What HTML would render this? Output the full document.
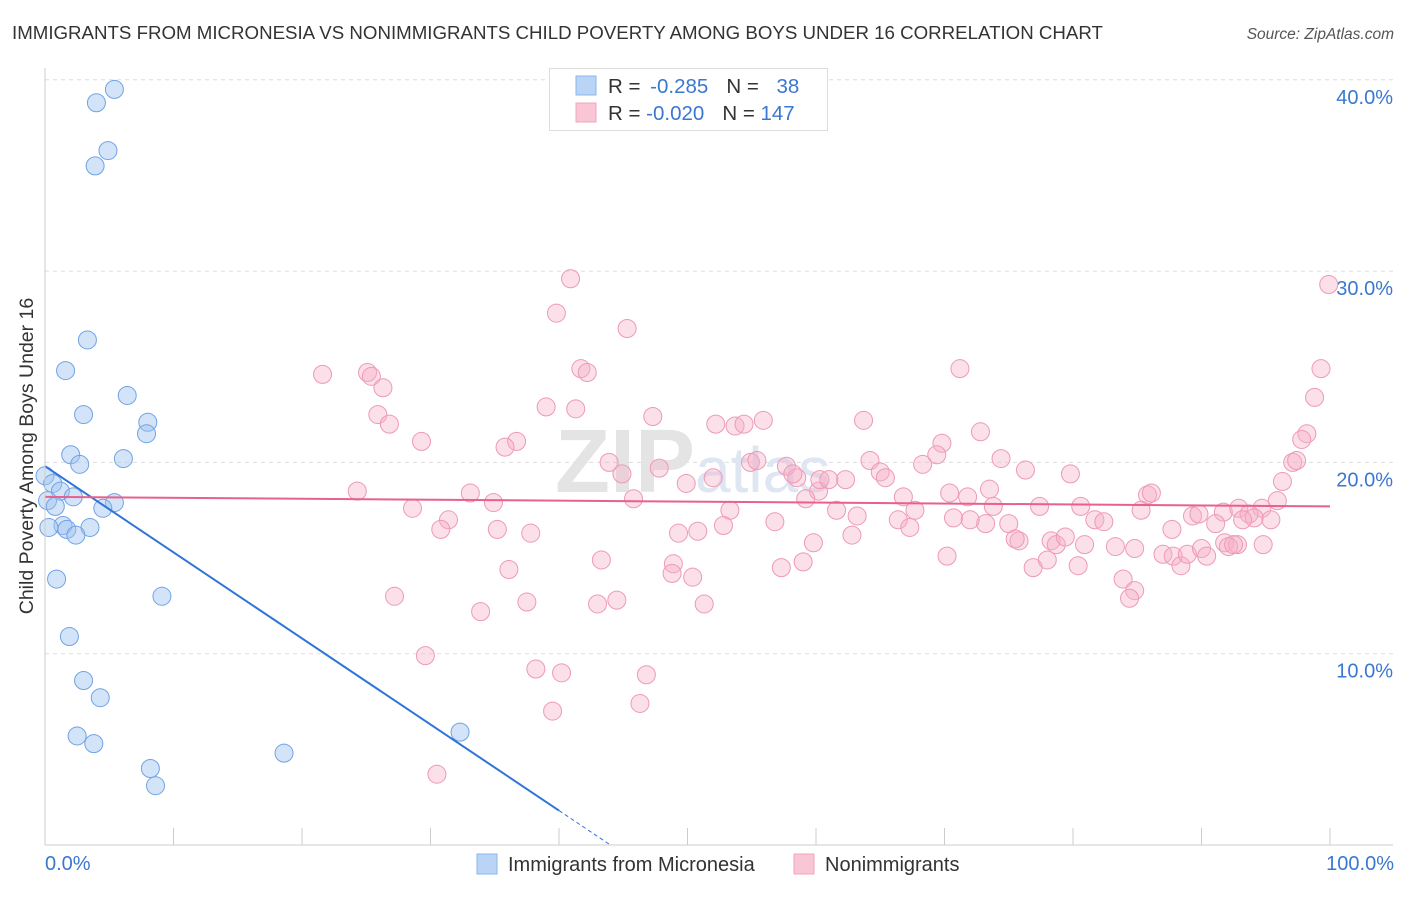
<!DOCTYPE html>
<html><head><meta charset="utf-8"><style>
body{margin:0;background:#fff;font-family:"Liberation Sans",sans-serif}
svg text{font-family:"Liberation Sans",sans-serif}
</style></head><body>
<svg id="chart" width="1406" height="892">
<text x="12" y="39" font-size="18.7" fill="#333">IMMIGRANTS FROM MICRONESIA VS NONIMMIGRANTS CHILD POVERTY AMONG BOYS UNDER 16 CORRELATION CHART</text>
<text x="1394" y="39" font-size="15.5" fill="#555" text-anchor="end" font-style="italic">Source: ZipAtlas.com</text>
<g id="grid"></g>
<text x="555" y="492" font-size="90" fill="#e4e4e4" font-family="Liberation Serif" font-weight="bold">ZIP<tspan font-size="64" fill="#dde6f2" font-family="Liberation Sans" font-weight="normal">atlas</tspan></text>
<g id="pink"></g>
<g id="blue"></g>
<g id="trends"></g>
<g id="axes"></g>
<text x="33" y="456" font-size="19.5" fill="#333" text-anchor="middle" transform="rotate(-90 33 456)">Child Poverty Among Boys Under 16</text>
<text x="45" y="870" font-size="20" fill="#3a78d0">0.0%</text>
<text x="1394" y="870" font-size="20" fill="#3a78d0" text-anchor="end">100.0%</text>
<g>
<rect x="549.5" y="68.5" width="278" height="62" fill="#fff" stroke="#ddd"/>
<rect x="576" y="76" width="20" height="19" fill="#b9d4f5" stroke="#8ab6ec"/>
<rect x="576" y="103" width="20" height="19" fill="#f9c6d6" stroke="#f0a4bd"/>
<text x="608" y="93" font-size="20.5" fill="#333">R = <tspan fill="#3a78d0" dx="4">-0.285</tspan><tspan dx="18" fill="#333">N = </tspan><tspan fill="#3a78d0" dx="12">38</tspan></text>
<text x="608" y="120" font-size="20.5" fill="#333">R = <tspan fill="#3a78d0">-0.020</tspan><tspan dx="18" fill="#333">N = </tspan><tspan fill="#3a78d0">147</tspan></text>
</g>
<g>
<rect x="477" y="854" width="20" height="20" fill="#b9d4f5" stroke="#8ab6ec"/>
<text x="508" y="871" font-size="20" fill="#333">Immigrants from Micronesia</text>
<rect x="794" y="854" width="20" height="20" fill="#f9c6d6" stroke="#f0a4bd"/>
<text x="825" y="871" font-size="20" fill="#333">Nonimmigrants</text>
</g>
</svg>
<script>
const yTicks=[10,20,30,40];
const yTickLabels=["10.0%","20.0%","30.0%","40.0%"];
const blueX=[5.4,4.0,4.9,3.9,3.3,1.6,6.4,3.0,8.0,7.9,2.0,6.1,2.7,0.0,0.6,1.2,2.2,0.2,0.8,5.4,4.5,1.4,1.7,0.3,3.5,2.4,0.9,9.1,1.9,3.0,4.3,2.5,3.8,8.2,8.6,18.6,32.3];
const blueY=[39.5,38.8,36.3,35.5,26.4,24.8,23.5,22.5,22.1,21.5,20.4,20.2,19.9,19.3,18.9,18.5,18.2,18.0,17.7,17.9,17.6,16.7,16.5,16.6,16.6,16.2,13.9,13.0,10.9,8.6,7.7,5.7,5.3,4.0,3.1,4.8,5.9];
const pinkX=[40.9,39.8,45.3,21.6,25.1,25.4,26.3,41.7,42.2,71.2,99.3,98.8,39.0,41.3,25.9,26.8,47.3,55.9,52.2,53.7,54.4,63.7,72.8,98.2,29.3,36.7,35.8,69.8,97.8,43.9,47.8,54.9,55.4,57.7,64.2,65.0,65.4,74.4,76.3,79.8,69.4,68.3,97.1,97.4,96.3,44.9,49.9,52.0,58.5,60.2,60.3,61.0,58.2,62.3,24.3,33.1,34.9,45.8,28.6,59.2,61.6,63.2,66.8,70.4,71.8,73.5,73.8,77.4,80.6,85.8,86.1,85.3,87.7,89.3,89.8,91.7,92.9,94.7,95.9,93.7,94.1,53.3,52.8,56.8,66.4,67.3,67.7,70.7,73.2,75.0,75.8,78.3,81.7,82.4,91.1,93.2,95.4,31.4,30.8,35.2,37.8,49.3,50.8,59.8,62.8,72.0,78.7,79.4,80.9,83.3,84.8,75.5,87.0,87.8,88.4,88.9,90.0,90.4,91.8,92.8,92.1,94.8,92.5,43.3,48.9,48.8,50.4,59.0,57.3,70.2,78.0,76.9,80.4,36.1,83.9,84.8,84.4,27.2,33.9,37.5,43.0,44.5,51.3,29.6,38.2,40.2,46.8,39.5,46.3,30.5,99.9];
const pinkY=[29.6,27.8,27.0,24.6,24.7,24.5,23.9,24.9,24.7,24.9,24.9,23.4,22.9,22.8,22.5,22.0,22.4,22.2,22.0,21.9,22.0,22.2,21.6,21.5,21.1,21.1,20.8,21.0,21.2,20.0,19.7,20.0,20.1,19.8,20.1,19.5,19.2,20.2,19.6,19.4,20.4,19.9,20.0,20.1,19.0,19.4,18.9,19.2,19.2,18.5,19.1,19.1,19.4,19.1,18.5,18.4,17.9,18.1,17.6,18.1,17.5,17.2,18.2,18.4,18.2,18.6,17.7,17.7,17.7,18.3,18.4,17.5,16.5,17.2,17.3,17.4,17.6,17.6,18.0,17.3,17.1,17.5,16.7,16.9,17.0,16.6,17.5,17.1,16.8,16.8,15.9,15.9,17.0,16.9,16.8,17.0,17.0,17.0,16.5,16.5,16.3,16.3,16.4,15.8,16.2,17.0,15.7,16.1,15.7,15.6,15.5,16.0,15.2,15.1,14.6,15.2,15.5,15.1,15.8,15.7,15.6,15.7,15.7,14.9,14.7,14.2,14.0,14.8,14.5,15.1,14.9,14.5,14.6,14.4,13.9,13.3,12.9,13.0,12.2,12.7,12.6,12.8,12.6,9.9,9.2,9.0,8.9,7.0,7.4,3.7,29.3];
const blueTrend=[19.8,-0.45];
const pinkTrend=[18.2,-0.005];
const NS="http://www.w3.org/2000/svg";
const X0=45,X1=1330,YB=845,PY=19.13;
function sx(v){return X0+(X1-X0)*v/100;}
function sy(v){return YB-v*PY;}
function mk(tag,attrs,parent){const e=document.createElementNS(NS,tag);for(const k in attrs)e.setAttribute(k,attrs[k]);parent.appendChild(e);return e;}
const grid=document.getElementById('grid');
yTicks.forEach((t,i)=>{
  const l=mk('line',{x1:X0,x2:1393,y1:sy(t),y2:sy(t),stroke:'#ddd','stroke-dasharray':'4,4'},grid);
  
  
  const tx=mk('text',{x:1393,y:sy(t)+24,'font-size':20,fill:'#3a78d0','text-anchor':'end'},grid);
  tx.textContent=yTickLabels[i];
  
  
});
const axes=document.getElementById('axes');
mk('line',{x1:X0,x2:X0,y1:68,y2:YB,stroke:'#ccc'},axes);
mk('line',{x1:X0,x2:1393,y1:YB,y2:YB,stroke:'#ccc'},axes);
for(let i=0;i<=10;i++){const t=mk('line',{x1:sx(i*10),x2:sx(i*10),y1:828,y2:YB,stroke:'#ccc'},axes);
  
  }
const pink=document.getElementById('pink');
pinkX.forEach((v,i)=>{const c=mk('circle',{cx:sx(v),cy:sy(pinkY[i]),r:9,fill:'rgba(246,176,200,0.4)',stroke:'#ee9ab5','stroke-width':1},pink);
  
  });
const blue=document.getElementById('blue');
blueX.forEach((v,i)=>{const c=mk('circle',{cx:sx(v),cy:sy(blueY[i]),r:9,fill:'rgba(160,196,240,0.45)',stroke:'#6fa3e6','stroke-width':1},blue);
  
  });
const tr=document.getElementById('trends');
const bt=mk('line',{x1:sx(0),y1:sy(blueTrend[0]),x2:sx(40),y2:sy(blueTrend[0]+blueTrend[1]*40),stroke:'#2f74d8','stroke-width':2},tr);


const bd=mk('line',{x1:sx(40),y1:sy(blueTrend[0]+blueTrend[1]*40),x2:sx(44),y2:sy(blueTrend[0]+blueTrend[1]*44),stroke:'#2f74d8','stroke-width':1,'stroke-dasharray':'4,3'},tr);


const pt=mk('line',{x1:sx(0),y1:sy(pinkTrend[0]),x2:sx(100),y2:sy(pinkTrend[0]+pinkTrend[1]*100),stroke:'#e8608c','stroke-width':2},tr);


</script>
</body></html>
